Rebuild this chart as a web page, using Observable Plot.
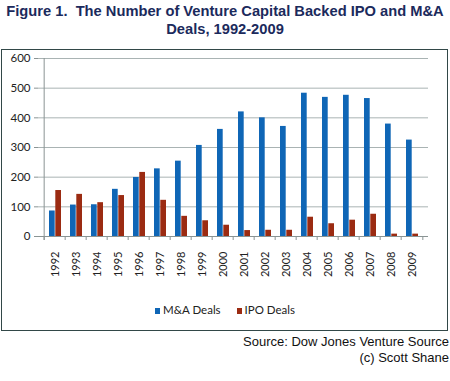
<!DOCTYPE html>
<html>
<head>
<meta charset="utf-8">
<script src="https://cdn.jsdelivr.net/npm/d3@7"></script>
<script src="https://cdn.jsdelivr.net/npm/@observablehq/plot@0.6"></script>
<style>
  html, body { margin: 0; padding: 0; background: #fff; }
  body { width: 450px; height: 381px; position: relative; overflow: hidden; }
  #title { position: absolute; left: 0; top: 2px; width: 450px; text-align: center;
    font: bold 14.7px "Liberation Sans", Arial, sans-serif; color: #1b2a5c; line-height: 18px; }
  #box { position: absolute; left: 1px; top: 49px; width: 445px; height: 280px;
    border: 1.5px solid #324848; box-sizing: content-box; }
  #chart { position: absolute; left: 0; top: 50px; }
  #legend { position: absolute; left: 0; top: 303px; width: 450px; text-align: center;
    font: 11.5px Lato, sans-serif; color: #222; }
  #legend span.sw { display: inline-block; width: 5px; height: 6px; margin-right: 3px; vertical-align: 0px; }
  #legend span.it { margin: 0 8px; }
  #source { position: absolute; right: 1px; top: 334px; text-align: right;
    font: 13px "Liberation Sans", Arial, sans-serif; color: #111; line-height: 16px; }
</style>
</head>
<body>
<div id="title">Figure 1.&nbsp; The Number of Venture Capital Backed IPO and M&amp;A<br>Deals, 1992-2009</div>
<div id="box"></div>
<div id="chart"></div>
<div id="legend"></div>
<div id="source">Source: Dow Jones Venture Source<br>(c) Scott Shane</div>
<script>
const years = ["1992","1993","1994","1995","1996","1997","1998","1999","2000","2001","2002","2003","2004","2005","2006","2007","2008","2009"];
const maDeals  = [86, 106, 107, 159, 199, 228, 254, 307, 361, 420, 400, 371, 483, 469, 476, 465, 379, 325];
const ipoDeals = [155, 142, 114, 138, 216, 122, 68, 53, 38, 20, 21, 21, 65, 43, 55, 75, 8, 8];
const seriesNames = ["M&A Deals", "IPO Deals"];
const seriesColors = ["#0f66b6", "#9b2b12"];
const yTicks = [0, 100, 200, 300, 400, 500, 600];

const W = 450, H = 230, mL = 38, mR = 22, mT = 8, mB = 44;
const bw = (W - mL - mR) / years.length;

const ma = years.map((y, i) => ({year: y, value: maDeals[i]}));
const ipo = years.map((y, i) => ({year: y, value: ipoDeals[i]}));

const chart = Plot.plot({
  width: W, height: H,
  marginLeft: mL, marginRight: mR, marginTop: mT, marginBottom: mB,
  style: {fontFamily: "Lato, sans-serif", fontSize: "11px", color: "#222", background: "transparent"},
  x: {domain: years, padding: 0, label: null},
  y: {domain: [0, 600], label: null},
  marks: [
    Plot.ruleY(yTicks.slice(1), {stroke: "#a9b3b3", strokeWidth: 1}),
    Plot.axisY({ticks: yTicks, tickSize: 4, tickPadding: 4, stroke: "#8a9494", label: null, fontSize: 11.5}),
    Plot.ruleX([0], {x: () => years[0], dx: -bw / 2, stroke: "#8a9494", insetBottom: -4}),
    Plot.barY(ma, {x: "year", y: "value", fill: seriesColors[0], insetLeft: 5, insetRight: 10.3}),
    Plot.barY(ipo, {x: "year", y: "value", fill: seriesColors[1], insetLeft: 11.3, insetRight: 4}),
    Plot.ruleY([0], {stroke: "#8a9494"}),
    Plot.axisX({tickSize: 4, tickFormat: () => "", dx: -bw / 2, stroke: "#8a9494", label: null}),
    Plot.axisX({ticks: [years[years.length - 1]], tickSize: 4, tickFormat: () => "", dx: bw / 2, stroke: "#8a9494", label: null}),
    Plot.axisX({tickSize: 0, tickPadding: 15, tickRotate: -90, label: null, fontSize: 11, fill: "#222"})
  ]
});
document.getElementById("chart").appendChild(chart);

const legend = document.getElementById("legend");
legend.innerHTML = seriesNames.map((n, i) =>
  `<span class="it"><span class="sw" style="background:${seriesColors[i]}"></span>${n.replace("&", "&amp;")}</span>`
).join("");
</script>
</body>
</html>
